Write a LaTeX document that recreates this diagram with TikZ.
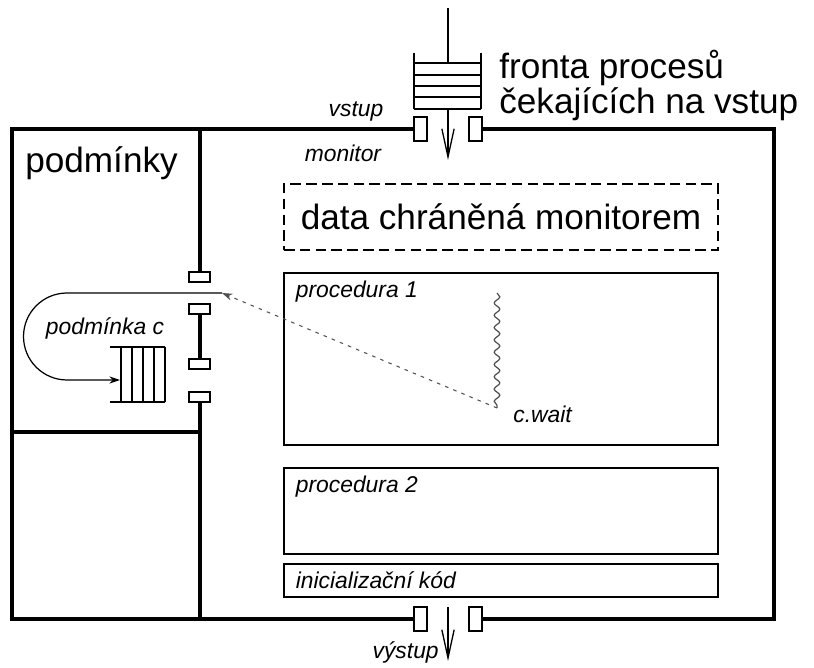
\documentclass[tikz,border=0pt]{standalone}
\usepackage{fontspec}
\setmainfont{Liberation Sans}
\usetikzlibrary{arrows.meta,decorations.pathmorphing,fit,positioning}
\definecolor{MonInk}{HTML}{000000}
\definecolor{MonGrey}{HTML}{505050}
\tikzset{
  mon/wall/.style={draw=MonInk, line width=2pt},
  mon/box/.style={draw=MonInk, line width=.85pt, inner sep=0pt},
  mon/databox/.style={mon/box, dash pattern=on 6pt off 3pt},
  mon/gate/.style={draw=MonInk, fill=white, line width=.75pt},
  mon/queue/.style={draw=MonInk, line width=.85pt},
  mon/big/.style={font=\fontsize{20}{17}\selectfont, inner sep=0pt},
  mon/label/.style={font=\fontsize{13}{15}\selectfont\itshape, inner sep=0pt},
  mon/enter/.style={
    -{Straight Barb[length=16pt,width=7pt]}, line width=.75pt, draw=MonInk
  },
  mon/wait/.style={
    -{Stealth[length=6pt,width=4pt]}, line width=.6pt,
    draw=MonGrey, dash pattern=on 2pt off 3pt
  },
  mon/return/.style={
    -{Stealth[length=6pt,width=4pt]}, line width=.7pt, draw=MonInk
  },
  mon/wave/.style={
    draw=MonGrey, line width=.7pt, decorate,
    decoration={snake, amplitude=1.6pt, segment length=7pt}
  }
}

\begin{document}
\begin{tikzpicture}[x=0.02cm,y=-0.02cm]
  \useasboundingbox (0,0) rectangle (814,668);
  \draw[mon/wall] (414,129) -- (12,129) -- (12,619) -- (414,619);
  \draw[mon/wall] (482,619) -- (774,619) -- (774,129) -- (482,129);
  \draw[mon/wall] (200,129) -- (200,272) (200,314) -- (200,359)
    (200,402) -- (200,619);
  \draw[mon/wall] (12,432) -- (200,432);
  \foreach \y in {272,304,359,392}
    \draw[mon/gate] (189,\y) rectangle +(21,10);
  \foreach \x in {414,469} {
    \draw[mon/gate] (\x,117) rectangle +(13,24);
    \draw[mon/gate] (\x,607) rectangle +(13,24);
  }

  \draw[mon/queue] (414,53) -- (414,109) (481,53) -- (481,109);
  \foreach \y in {63,75,86,97,109}
    \draw[mon/queue] (414,\y) -- (481,\y);
  \coordinate (qin) at (448,8);
  \coordinate (qtop) at (448,63);
  \coordinate (qout) at (448,109);
  \coordinate (inside) at (448,160);
  \draw[mon/queue] (qin) -- (qtop);
  \draw[mon/enter] (qout) -- (inside);
  \coordinate (exitfrom) at (448,607);
  \coordinate (exitto) at (448,661);
  \draw[mon/enter] (exitfrom) -- (exitto);

  \foreach \y in {347,402}
    \draw[mon/queue] (110,\y) -- (165,\y);
  \foreach \x in {121,132,143,154,165}
    \draw[mon/queue] (\x,347) -- (\x,402);
  \coordinate (gap) at (222,293);
  \coordinate (condq) at (120,380);
  \draw[mon/return] (gap) -- (67,293) arc[start angle=90, end angle=270,
    radius=0.87cm] -- (condq);

  \node[mon/databox, fit={(284,184) (718,250)}] (data) {};
  \node[mon/big] (datalab) at (data.center) {data chráněná monitorem};
  \node[mon/box, fit={(284,273) (718,445)}] (proc1) {};
  \node[mon/label, below right=5pt and 7pt of proc1.north west] (proc1lab)
    {procedura 1};
  \node[mon/box, fit={(284,468) (718,554)}] (proc2) {};
  \node[mon/label, below right=5pt and 7pt of proc2.north west] (proc2lab)
    {procedura 2};
  \node[mon/box, fit={(284,564) (718,597)}] (init) {};
  \node[mon/label, right=7pt of init.west] (initlab) {inicializační kód};

  \coordinate (wavetop) at (497,293);
  \coordinate (wavebot) at (497,408);
  \draw[mon/wave] (wavetop) -- (wavebot);
  \node[mon/label, anchor=west] (cwait) at (513,414) {c.wait};
  \draw[mon/wait] (wavebot) -- (gap);

  \node[mon/big, anchor=west] (podm) at (25,163) {podmínky};
  \node[mon/big, anchor=north west, align=left] (fronta) at (499,50)
    {fronta procesů\\čekajících na vstup};
  \node[mon/label] (vstup) at (356,111) {vstup};
  \node[mon/label] (monitor) at (343,153) {monitor};
  \node[mon/label] (condc) at (105,328) {podmínka c};
  \node[mon/label, anchor=east] (vystup) at (439,652) {výstup};
\end{tikzpicture}
\end{document}
